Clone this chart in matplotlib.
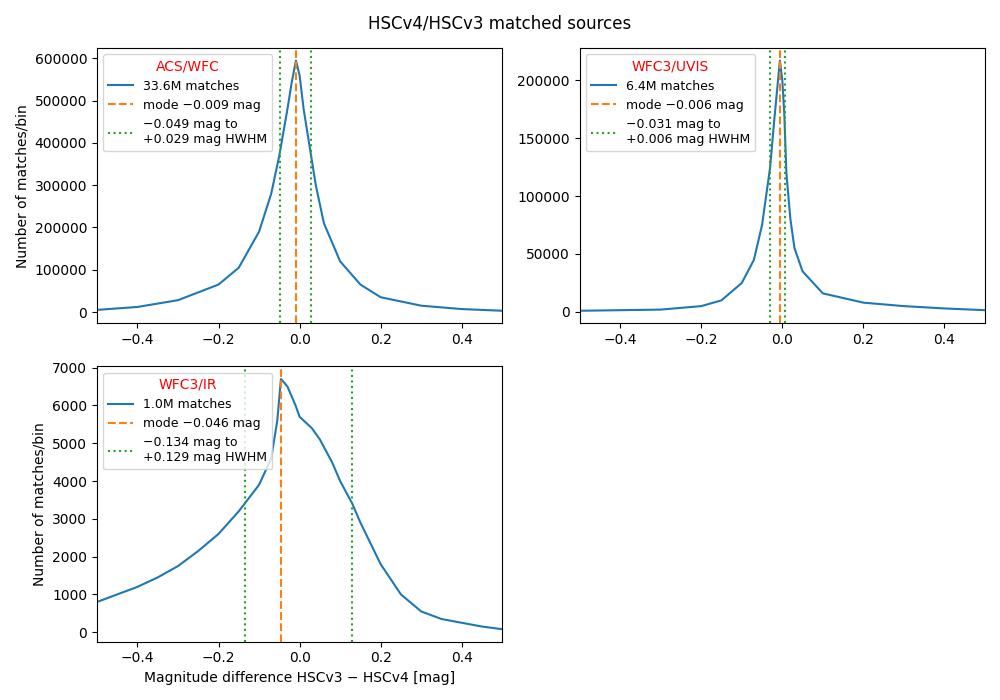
import matplotlib.pyplot as plt

# values
acs_x = [-0.5, -0.4, -0.3, -0.2, -0.15, -0.1, -0.07, -0.05, -0.03, -0.02, -0.009,
         0.0, 0.01, 0.02, 0.04, 0.06, 0.1, 0.15, 0.2, 0.3, 0.4, 0.5]
acs_y = [5000, 12000, 28000, 65000, 105000, 190000, 280000, 370000, 480000, 540000, 595000,
         560000, 480000, 420000, 300000, 210000, 120000, 65000, 35000, 15000, 7000, 3000]

uvis_x = [-0.5, -0.3, -0.2, -0.15, -0.1, -0.07, -0.05, -0.03, -0.02, -0.006,
          0.0, 0.005, 0.01, 0.02, 0.03, 0.05, 0.1, 0.2, 0.3, 0.4, 0.5]
uvis_y = [1000, 2000, 5000, 10000, 25000, 45000, 75000, 125000, 165000, 217000,
          200000, 170000, 120000, 80000, 55000, 35000, 16000, 8000, 5000, 3000, 1500]

ir_x = [-0.5, -0.45, -0.4, -0.35, -0.3, -0.25, -0.2, -0.15, -0.1, -0.07, -0.055, -0.046,
        -0.03, -0.01, 0.0, 0.03, 0.05, 0.08, 0.1, 0.13, 0.15, 0.2, 0.25, 0.3, 0.35, 0.4, 0.45, 0.5]
ir_y = [800, 1000, 1200, 1450, 1750, 2150, 2600, 3200, 3900, 4600, 5600, 6700,
        6500, 6000, 5700, 5400, 5100, 4500, 4000, 3400, 2900, 1800, 1000, 550, 350, 250, 150, 80]

panels = [
    ("ACS/WFC", acs_x, acs_y, "33.6M matches", -0.009, -0.049, 0.029),
    ("WFC3/UVIS", uvis_x, uvis_y, "6.4M matches", -0.006, -0.031, 0.006),
    ("WFC3/IR", ir_x, ir_y, "1.0M matches", -0.046, -0.134, 0.129),
]

fig, axs = plt.subplots(2, 2, figsize=(10, 7), dpi=100)
fig.suptitle("HSCv4/HSCv3 matched sources")
for ax, (name, x, y, lab, mode, lo, hi) in zip([axs[0, 0], axs[0, 1], axs[1, 0]], panels):
    ax.plot(x, y, label=lab)
    ax.axvline(mode, color="C1", ls="--", label=f"mode {mode:+.3f} mag".replace("+", "").replace("-", "\u2212"))
    ax.axvline(lo, color="C2", ls=":",
               label=f"\u2212{abs(lo):.3f} mag to\n+{hi:.3f} mag HWHM")
    ax.axvline(hi, color="C2", ls=":")
    ax.set_xlim(-0.5, 0.5)
    leg = ax.legend(title=name, loc="upper left", fontsize=9)
    leg.get_title().set_color("red")
axs[0, 0].set_ylabel("Number of matches/bin")
axs[1, 0].set_ylabel("Number of matches/bin")
axs[1, 0].set_xlabel("Magnitude difference HSCv3 \u2212 HSCv4 [mag]")
axs[1, 1].axis("off")
fig.tight_layout()
plt.savefig("out.png")
